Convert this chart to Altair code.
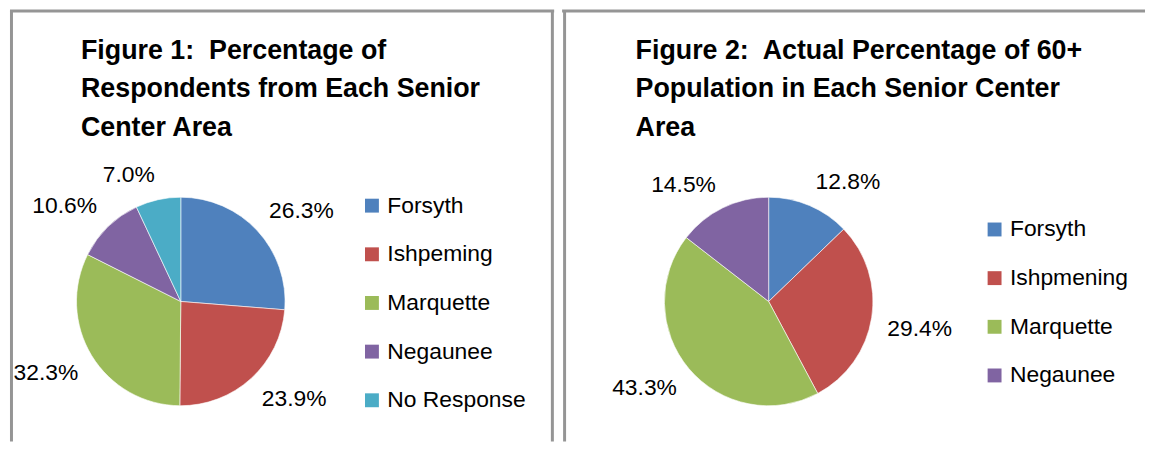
import altair as alt
import pandas as pd

# ---- data ----
cats1 = ["Forsyth", "Ishpeming", "Marquette", "Negaunee", "No Response"]
vals1 = [26.3, 23.9, 32.3, 10.6, 7.0]
colors1 = ["#4F81BD", "#C0504D", "#9BBB59", "#8064A2", "#4BACC6"]
title1 = ["Figure 1:\u00a0 Percentage of", "Respondents from Each Senior", "Center Area"]

cats2 = ["Forsyth", "Ishpmening", "Marquette", "Negaunee"]
vals2 = [12.8, 29.4, 43.3, 14.5]
colors2 = ["#4F81BD", "#C0504D", "#9BBB59", "#8064A2"]
title2 = ["Figure 2:\u00a0 Actual Percentage of 60+", "Population in Each Senior Center", "Area"]

FONT = "Liberation Sans, Arial, sans-serif"
BORDER = "#959595"
R = 105
ANCHOR = 121
H = 435


def make_df(cats, vals):
    return pd.DataFrame({
        "idx": list(range(len(cats))),
        "cat": cats,
        "value": vals,
        "label": [f"{v:.1f}%" for v in vals],
    })


def panel(cats, vals, colors, title, width, cx, cy, tx, lx, ly, left_x, right_x):
    df = make_df(cats, vals)
    one = alt.Data(values=[{}])
    rules = []
    rules.append(alt.Chart(one).mark_rule(color=BORDER, strokeWidth=3).encode(
        x=alt.value(left_x), y=alt.value(1.5), y2=alt.value(H)))
    rules.append(alt.Chart(one).mark_rule(color=BORDER, strokeWidth=3).encode(
        x=alt.value(0), x2=alt.value(width), y=alt.value(1.5)))
    if right_x is not None:
        rules.append(alt.Chart(one).mark_rule(color=BORDER, strokeWidth=3).encode(
            x=alt.value(right_x), y=alt.value(1.5), y2=alt.value(H)))

    ttl = alt.Chart(one).mark_text(
        text=title, align="left", baseline="alphabetic", font=FONT,
        fontWeight="bold", fontSize=27, lineHeight=38.5, color="black"
    ).encode(x=alt.value(tx), y=alt.value(50))

    arcs = alt.Chart(df).mark_arc(outerRadius=R, stroke="white", strokeWidth=0.6).encode(
        theta=alt.Theta("value:Q", stack=True),
        order=alt.Order("idx:Q"),
        color=alt.Color("cat:N", scale=alt.Scale(domain=cats, range=colors),
                        legend=alt.Legend(title=None, orient="none", legendX=lx, legendY=ly,
                                          symbolType="square", symbolSize=196,
                                          symbolStrokeWidth=0, labelFontSize=23,
                                          labelFont=FONT, labelColor="black",
                                          rowPadding=25, labelOffset=4, padding=0)),
        x=alt.value(cx), y=alt.value(cy),
    )

    labels = alt.Chart(df).transform_joinaggregate(
        total="sum(value)"
    ).transform_window(
        cum="sum(value)", sort=[alt.SortField("idx")], frame=[None, 0]
    ).transform_calculate(
        mid="2*PI*(datum.cum - datum.value/2)/datum.total",
    ).transform_calculate(
        ax=f"{ANCHOR}*sin(datum.mid) + (sin(datum.mid) > 0 ? 1 : -1)*length(datum.label)*6.5",
        ay=f"-{ANCHOR}*cos(datum.mid) - (cos(datum.mid) > 0 ? 1 : -1)*9",
    ).transform_calculate(
        lt="atan2(datum.ax, -datum.ay)",
        lr="sqrt(datum.ax*datum.ax + datum.ay*datum.ay)",
    ).mark_text(font=FONT, fontSize=23, color="black", align="center", baseline="middle").encode(
        theta=alt.Theta("lt:Q", scale=None),
        radius=alt.Radius("lr:Q", scale=None),
        text="label:N",
        x=alt.value(cx), y=alt.value(cy),
    )

    return alt.layer(*rules, ttl, arcs, labels).properties(width=width, height=H)


p1 = panel(cats1, vals1, colors1, title1, 548, 172, 294, 71.5, 353, 186, 1.5, 546.2)
p2 = panel(cats2, vals2, colors2, title2, 587, 208, 294, 74, 424, 210, 2.5, None)

chart = alt.hconcat(p1, p2, spacing=4, padding=0).resolve_scale(
    color="independent"
).configure_view(stroke=None)

chart.save("out.html", embed_options={"renderer": "svg", "actions": False})
